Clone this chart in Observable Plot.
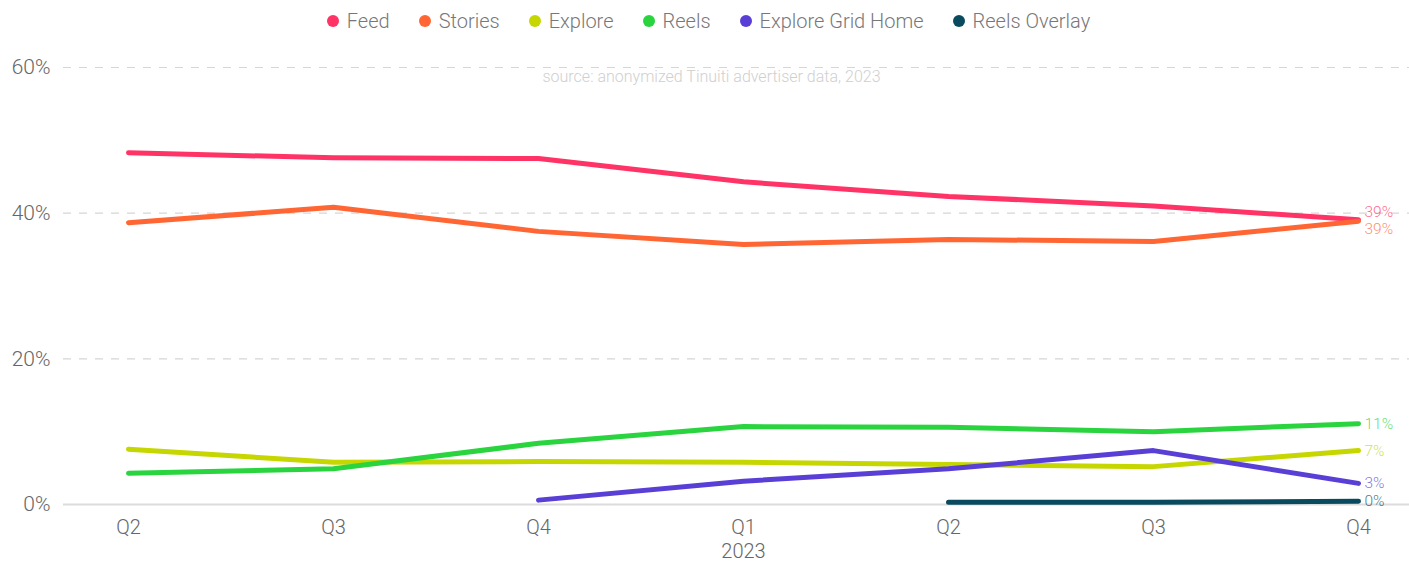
<!DOCTYPE html>
<html>
<head>
<meta charset="utf-8">
<script src="https://cdn.jsdelivr.net/npm/d3@7"></script>
<script src="https://cdn.jsdelivr.net/npm/@observablehq/plot@0.6"></script>
<style>
  html, body { margin: 0; padding: 0; background: #fff; }
  body { width: 1409px; font-family: Roboto, "Open Sans", sans-serif; font-weight: 300; }
  #legend { height: 42px; display: flex; justify-content: center; align-items: center; gap: 29px; font-size: 20px; color: #777; padding-left: 8px; box-sizing: border-box; }
  #legend .item { display: flex; align-items: center; gap: 8px; }
  #legend .dot { width: 12px; height: 12px; border-radius: 50%; display: inline-block; }
  svg { display: block; font-family: Roboto, sans-serif; font-weight: 300; overflow: visible; }
</style>
</head>
<body>
<div id="legend"></div>
<div id="chart"></div>
<script>
const quarters = ["Q2 2022", "Q3 2022", "Q4 2022", "Q1 2023", "Q2 2023", "Q3 2023", "Q4 2023"];
const tickLabels = ["Q2", "Q3", "Q4", "Q1\n2023", "Q2", "Q3", "Q4"];
const seriesNames = ["Feed", "Stories", "Explore", "Reels", "Explore Grid Home", "Reels Overlay"];
const seriesColors = ["#ff3366", "#ff6633", "#c6d600", "#2ad43f", "#5a3fd6", "#0a4a5e"];
const feed = [48.3, 47.6, 47.5, 44.3, 42.3, 41.0, 39.1];
const stories = [38.7, 40.8, 37.5, 35.7, 36.4, 36.1, 38.9];
const explore = [7.6, 5.8, 5.9, 5.8, 5.5, 5.2, 7.4];
const reels = [4.3, 4.9, 8.4, 10.7, 10.6, 10.0, 11.1];
const exploreGridHome = [null, null, 0.6, 3.2, 4.9, 7.4, 2.9];
const reelsOverlay = [null, null, null, null, 0.3, 0.3, 0.45];
const yTicks = [0, 20, 40, 60];
const sourceNote = "source: anonymized Tinuiti advertiser data, 2023";

const seriesValues = [feed, stories, explore, reels, exploreGridHome, reelsOverlay];
const rows = [];
seriesNames.forEach((name, i) => {
  seriesValues[i].forEach((v, j) => {
    if (v !== null) rows.push({series: name, quarter: quarters[j], value: v});
  });
});
const lastRows = seriesNames.map(name => {
  const r = rows.filter(d => d.series === name);
  return r[r.length - 1];
});
const labelDy = {"Feed": -8, "Stories": 8};

// legend
const legend = document.getElementById("legend");
seriesNames.forEach((name, i) => {
  const item = document.createElement("span");
  item.className = "item";
  item.innerHTML = `<span class="dot" style="background:${seriesColors[i]}"></span><span>${name}</span>`;
  legend.appendChild(item);
});

const chart = Plot.plot({
  width: 1409,
  height: 520,
  marginLeft: 63,
  marginRight: 0,
  marginTop: 25,
  marginBottom: 58,
  style: {fontFamily: "Roboto, sans-serif", fontWeight: 300, overflow: "visible"},
  x: {type: "point", domain: quarters, range: [126, 1360], padding: 0, label: null},
  y: {domain: [0, 60], label: null},
  color: {domain: seriesNames, range: seriesColors},
  marks: [
    Plot.gridY(yTicks.filter(d => d > 0), {stroke: "#d6d6d6", strokeOpacity: 1, strokeDasharray: "8,8", strokeWidth: 1.2}),
    Plot.ruleY([0], {stroke: "#dcdcdc", strokeWidth: 2}),
    Plot.axisY({ticks: yTicks, tickSize: 0, tickPadding: 13, tickFormat: d => d + "%", fontSize: 21, fill: "#666", label: null}),
    Plot.axisX({tickSize: 0, tickPadding: 12, tickFormat: d => tickLabels[quarters.indexOf(d)], fontSize: 20, fill: "#666", lineHeight: 1.2, label: null}),
    Plot.text([sourceNote], {frameAnchor: "top", dy: 3, dx: -25, lineAnchor: "top", fontSize: 16, fill: "#cfcfcf"}),
    Plot.line(rows, {x: "quarter", y: "value", z: "series", stroke: "series", strokeWidth: 5, strokeLinecap: "round", strokeLinejoin: "round"}),
    ...lastRows.map(r => Plot.text([r], {
      x: "quarter", y: "value", text: d => Math.round(d.value) + "%",
      fill: "series", fillOpacity: 0.75, textAnchor: "start", dx: 6, dy: labelDy[r.series] || 0, fontSize: 15.5
    }))
  ]
});
document.getElementById("chart").appendChild(chart);
</script>
</body>
</html>
